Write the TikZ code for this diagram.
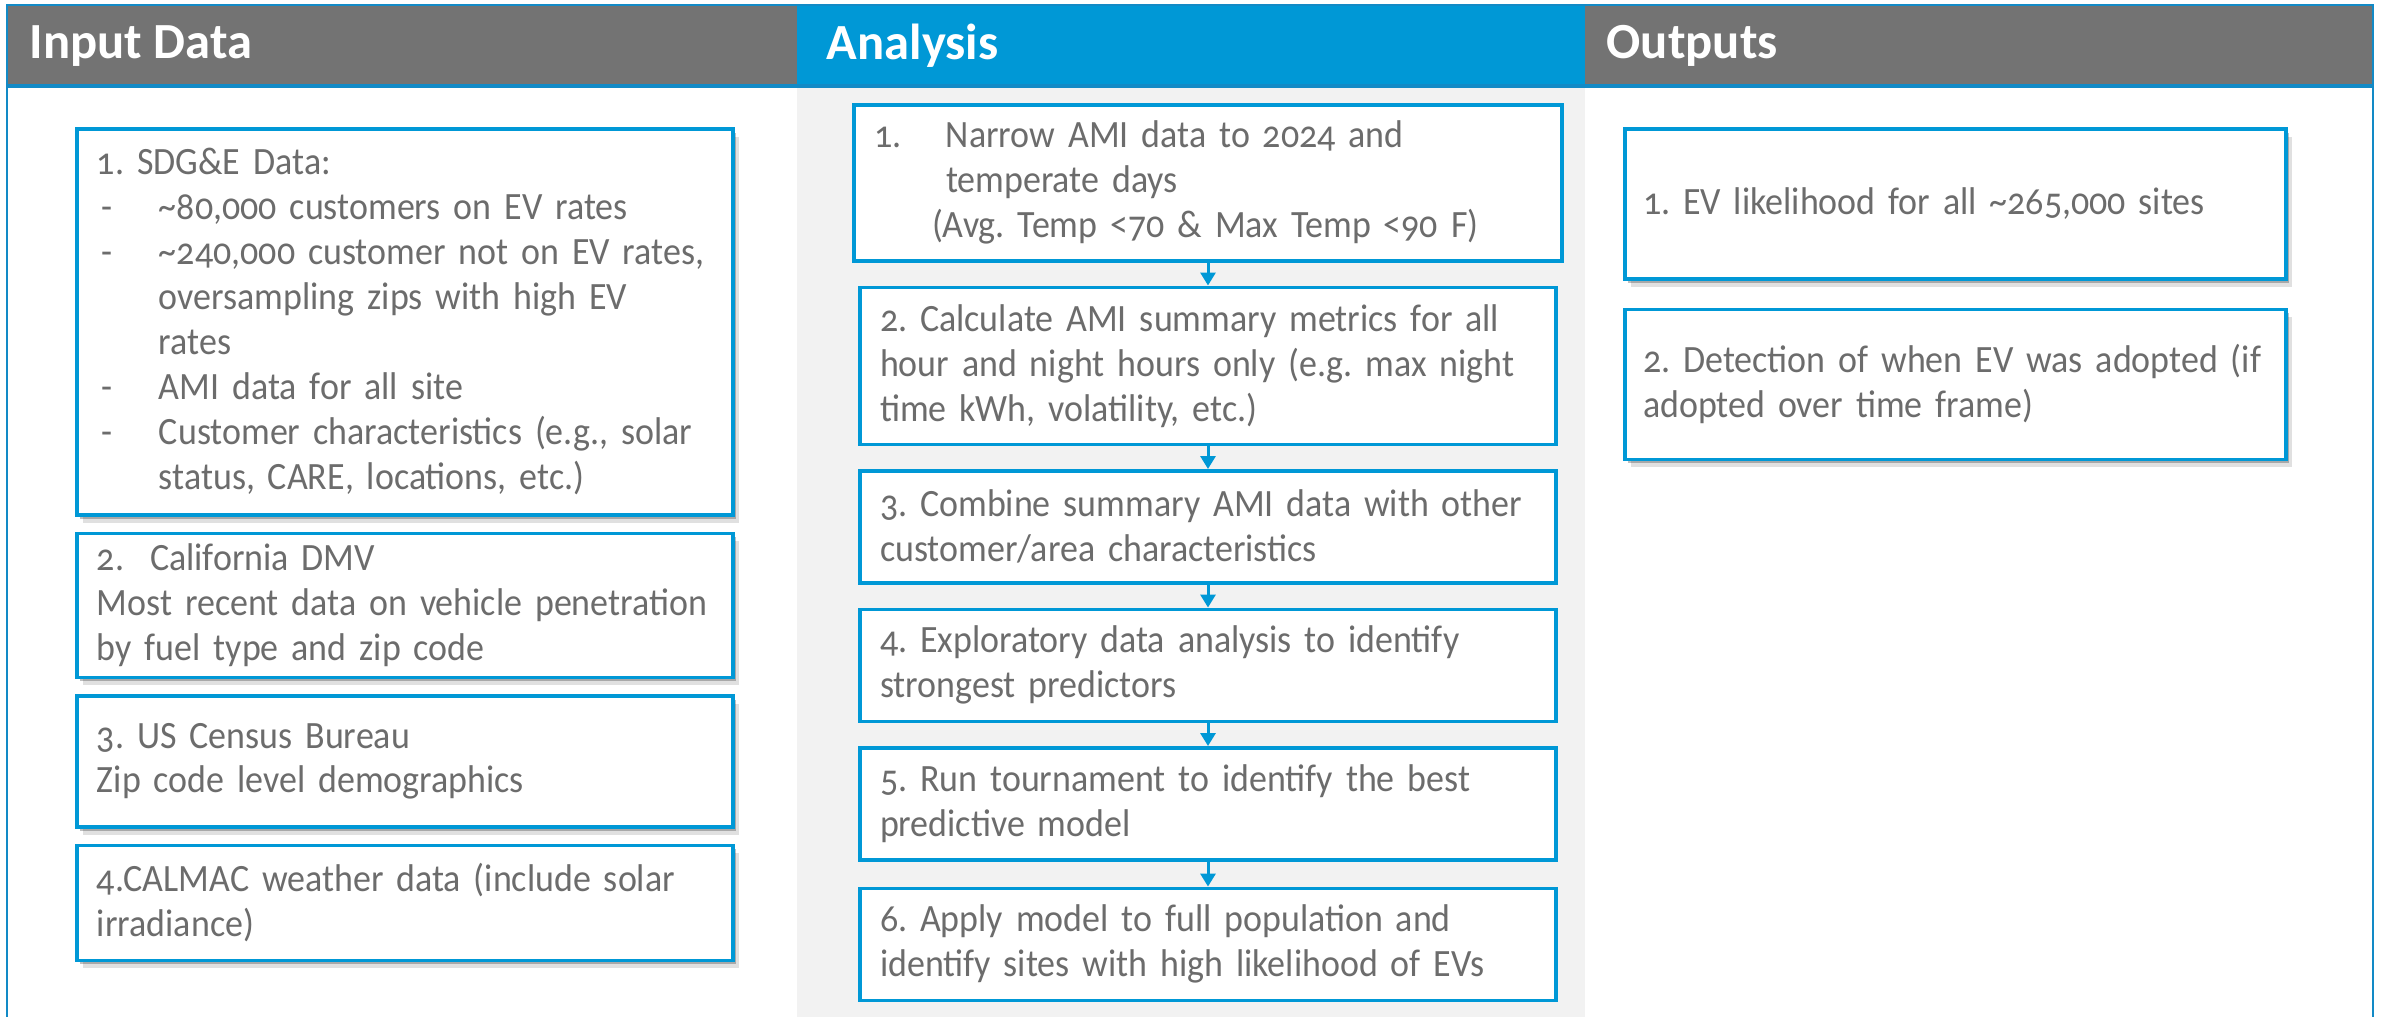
\documentclass[tikz,border=0pt]{standalone}
\usepackage{fontspec}
\setmainfont{Carlito}[Numbers=OldStyle, FakeStretch=0.93]
\newfontfamily\hdrfont{Carlito}
\usetikzlibrary{positioning, arrows.meta, shadows}
\definecolor{hdrgray}{RGB}{115,115,115}
\definecolor{evblue}{RGB}{0,152,214}
\definecolor{rule}{RGB}{18,138,198}
\definecolor{panel}{RGB}{242,242,242}
\definecolor{txt}{RGB}{108,108,108}
% dash bullets with a hanging indent
\newcommand{\ditem}{\hspace*{0.5mm}\makebox[5.7mm][l]{-}}
\newcommand{\dcont}{\hspace*{6.2mm}}

\begin{document}
\begin{tikzpicture}[
  every node/.style={font=\fontsize{11}{12.8}\selectfont\frenchspacing, text=txt},
  hdr/.style={font=\hdrfont\fontsize{14.4}{16}\selectfont\bfseries, text=white, anchor=west, inner xsep=0pt},
  softshadow/.style={drop shadow={shadow xshift=0.3mm, shadow yshift=-0.4mm, opacity=0.25, fill=black},
                     drop shadow={shadow xshift=0.6mm, shadow yshift=-0.8mm, opacity=0.12, fill=black}},
  box/.style={rectangle, draw=evblue, line width=1pt, fill=white, inner xsep=2mm,
              inner ysep=0.5mm, align=left},
  inbox/.style={box, softshadow, text width=61.6mm},
  anbox/.style={box, text width=65.6mm, minimum height=11.2mm},
  outbox/.style={box, softshadow, text width=62.5mm, inner xsep=1.8mm, minimum height=15mm},
  arr/.style={-{Triangle[width=1.5mm,length=1.3mm]}, line width=0.85pt, draw=evblue},
]
\useasboundingbox (0,0) rectangle (23.86,-10.17);

% table frame and header bar
\fill[panel]   (7.97,-0.86)  rectangle (15.85,-10.17);
\fill[hdrgray] (0.07,-0.05)  rectangle (7.97,-0.86);
\fill[evblue]  (7.97,-0.05)  rectangle (15.85,-0.86);
\fill[hdrgray] (15.85,-0.05) rectangle (23.73,-0.86);
\draw[rule, line width=0.6pt] (0.07,-10.17) -- (0.07,-0.05) -- (23.73,-0.05) -- (23.73,-10.17);
\draw[rule, line width=0.9pt] (0.07,-0.86) -- (23.73,-0.86);

\node[hdr] (tin)  at (0.29,-0.46)  {Input Data};
\node[hdr] (tan)  at (8.26,-0.46)  {Analysis};
\node[hdr] (tout) at (16.06,-0.46) {Outputs};

% input column
\node[inbox, minimum height=38.6mm, anchor=north] (in1) at (4.05,-1.27) {1. SDG\&E Data:\\
  \ditem\textasciitilde80,000 customers on EV rates\\
  \ditem\textasciitilde240,000 customer not on EV rates,\\
  \dcont oversampling zips with high EV\\
  \dcont rates\\
  \ditem AMI data for all site\\
  \ditem Customer characteristics (e.g., solar\\
  \dcont status, CARE, locations, etc.)};
\node[inbox, minimum height=14.4mm, below=1.5mm of in1] (in2) {2.\ \ California DMV\\
  Most recent data on vehicle penetration\\
  by fuel type and zip code};
\node[inbox, minimum height=13.1mm, below=1.5mm of in2] (in3) {3. US Census Bureau\\
  Zip code level demographics};
\node[inbox, minimum height=11.5mm, below=1.5mm of in3] (in4) {4.CALMAC weather data (include solar\\
  irradiance)};

% analysis column
\node[anbox, text width=66.8mm, minimum height=15.6mm, anchor=north] (a1) at (12.08,-1.03)
  {\makebox[7.2mm][l]{1.}Narrow AMI data to 2024 and\\
  \hspace*{7.2mm}temperate days\\
  \hspace*{5.8mm}(Avg. Temp <70 \& Max Temp <90 F)};
\node[anbox, minimum height=15.7mm, below=2.3mm of a1] (a2) {2. Calculate AMI summary metrics for all\\
  hour and night hours only (e.g. max night\\
  time kWh, volatility, etc.)};
\node[anbox, below=2.3mm of a2] (a3) {3. Combine summary AMI data with other\\
  customer/area characteristics};
\node[anbox, below=2.3mm of a3] (a4) {4. Exploratory data analysis to identify\\
  strongest predictors};
\node[anbox, below=2.3mm of a4] (a5) {5. Run tournament to identify the best\\
  predictive model};
\node[anbox, below=2.5mm of a5] (a6) {6. Apply model to full population and\\
  identify sites with high likelihood of EVs};

\draw[arr] (a1) -- (a2);
\draw[arr] (a2) -- (a3);
\draw[arr] (a3) -- (a4);
\draw[arr] (a4) -- (a5);
\draw[arr] (a5) -- (a6);

% output column
\node[outbox, anchor=north] (o1) at (19.555,-1.27) {1. EV likelihood for all \textasciitilde265,000 sites};
\node[outbox, below=2.7mm of o1] (o2) {2. Detection of when EV was adopted (if\\
  adopted over time frame)};
\end{tikzpicture}
\end{document}
